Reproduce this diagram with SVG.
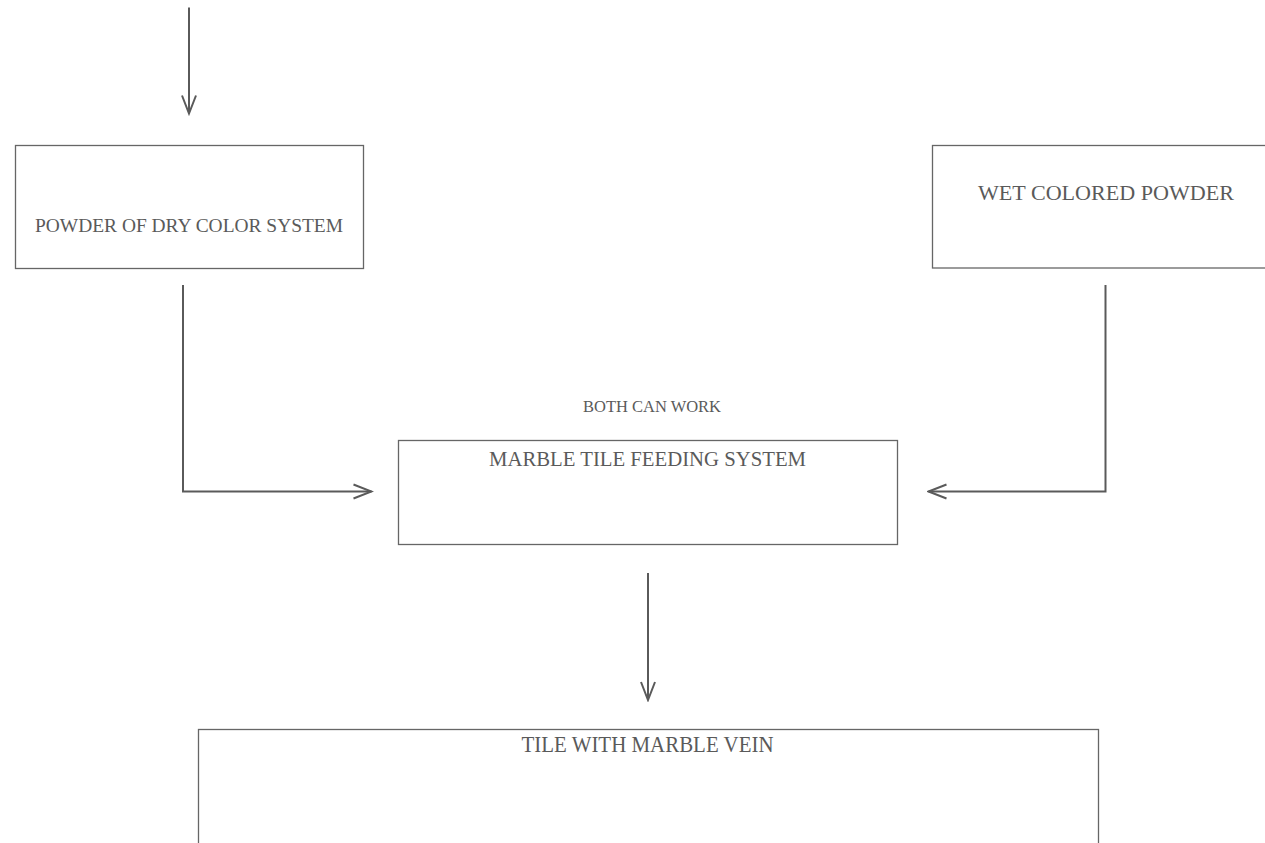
<svg xmlns="http://www.w3.org/2000/svg" width="1265" height="843" viewBox="0 0 1265 843">
  <style>
    .box { fill: #ffffff; stroke: #666666; stroke-width: 1.3; }
    .lbl { font-family: "Liberation Serif", "DejaVu Serif", serif; fill: #5a5a5a; text-anchor: middle; }
    .conn { fill: none; stroke: #5a5a5a; stroke-width: 2; }
  </style>
  <defs>
    <marker id="arrow" viewBox="-20 -10 22 20" refX="0" refY="0" markerWidth="22" markerHeight="20" markerUnits="userSpaceOnUse" orient="auto">
      <path d="M-18,-7 L0,0 L-18,7" fill="none" stroke="#5a5a5a" stroke-width="2" stroke-linejoin="miter"/>
    </marker>
  </defs>
  <rect width="1265" height="843" fill="#ffffff"/>

  <g id="node-dry">
    <rect class="box" x="15.5" y="145.5" width="348" height="123"/>
    <text class="lbl" x="189" y="232" font-size="18" textLength="308" lengthAdjust="spacingAndGlyphs">POWDER OF DRY COLOR SYSTEM</text>
  </g>

  <g id="node-wet">
    <rect class="box" x="932.5" y="145.5" width="345" height="122.5"/>
    <text class="lbl" x="1106" y="200" font-size="21" textLength="256" lengthAdjust="spacingAndGlyphs">WET COLORED POWDER</text>
  </g>

  <g id="label-both">
    <text class="lbl" x="652" y="412" font-size="16" textLength="138" lengthAdjust="spacingAndGlyphs">BOTH CAN WORK</text>
  </g>

  <g id="node-feeding">
    <rect class="box" x="398.5" y="440.5" width="499" height="104"/>
    <text class="lbl" x="647.5" y="466" font-size="21" textLength="317" lengthAdjust="spacingAndGlyphs">MARBLE TILE FEEDING SYSTEM</text>
  </g>

  <g id="node-tile">
    <rect class="box" x="198.5" y="729.5" width="900" height="130"/>
    <text class="lbl" x="647.5" y="752" font-size="23" textLength="252" lengthAdjust="spacingAndGlyphs">TILE WITH MARBLE VEIN</text>
  </g>

  <g id="connectors">
    <path class="conn" d="M189,7.5 L189,113.5" marker-end="url(#arrow)"/>
    <path class="conn" d="M183,285 L183,491.5 L371.5,491.5" marker-end="url(#arrow)"/>
    <path class="conn" d="M1105.5,285 L1105.5,491.5 L928.5,491.5" marker-end="url(#arrow)"/>
    <path class="conn" d="M648,573 L648,700" marker-end="url(#arrow)"/>
  </g>
</svg>
